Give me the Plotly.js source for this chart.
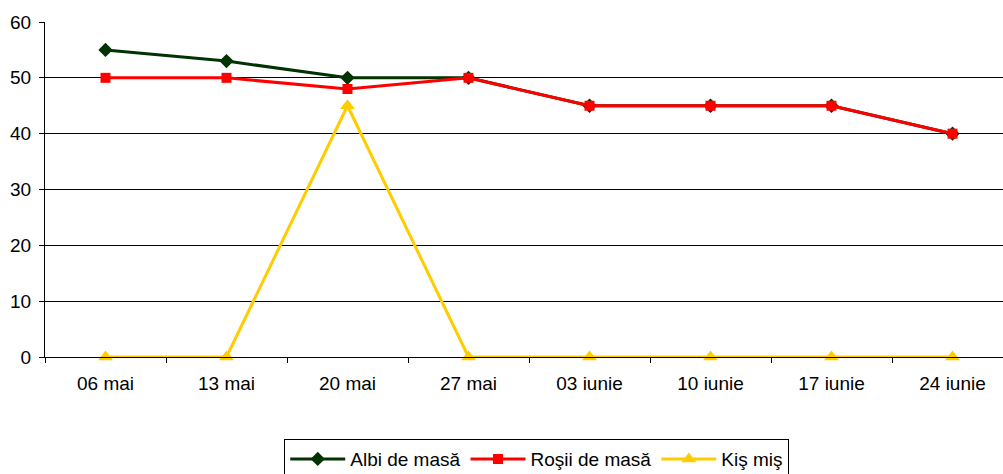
<!DOCTYPE html>
<html>
<head>
<meta charset="utf-8">
<script src="https://cdn.plot.ly/plotly-3.0.1.min.js"></script>
<style>
html,body{margin:0;padding:0;overflow:hidden;background:#fff;}
#chart{width:1013px;height:490px;}
</style>
</head>
<body>
<div id="chart"></div>
<script>
const categories = ["06 mai","13 mai","20 mai","27 mai","03 iunie","10 iunie","17 iunie","24 iunie"];
const albiValues = [55,53,50,50,45,45,45,40];
const rosiiValues = [50,50,48,50,45,45,45,40];
const kisValues = [0,0,45,0,0,0,0,0];
const seriesNames = ["Albi de masă","Roşii de masă","Kiş miş"];
const yTicks = [0,10,20,30,40,50,60];

const traces = [
  {x:categories,y:albiValues,name:seriesNames[0],type:"scatter",mode:"lines+markers",
   line:{color:"#003300",width:3},marker:{symbol:"diamond",size:11,color:"#003300"},cliponaxis:false},
  {x:categories,y:rosiiValues,name:seriesNames[1],type:"scatter",mode:"lines+markers",
   line:{color:"#FF0000",width:3},marker:{symbol:"square",size:10,color:"#FF0000"},cliponaxis:false},
  {x:categories,y:kisValues,name:seriesNames[2],type:"scatter",mode:"lines+markers",
   line:{color:"#FFCC00",width:3},marker:{symbol:"triangle-up",size:13,color:"#FFCC00"},cliponaxis:false}
];

const layout = {
  width:1013,height:490,
  margin:{l:45,r:0,t:22,b:133},
  paper_bgcolor:"#fff",plot_bgcolor:"#fff",
  font:{family:"Liberation Sans, Arial, sans-serif",size:19,color:"#000"},
  showlegend:true,
  xaxis:{type:"category",range:[-0.5,7.5],showgrid:false,zeroline:false,
    showline:true,linecolor:"#000",linewidth:1,automargin:false,
    ticks:"outside",tickson:"boundaries",ticklen:5,tickcolor:"#000",
    ticklabelstandoff:9,tickfont:{size:19},fixedrange:true},
  yaxis:{range:[0,60],tickvals:yTicks,showgrid:true,gridcolor:"#000",gridwidth:1,
    zeroline:false,showline:true,linecolor:"#000",linewidth:1,automargin:false,
    ticks:"outside",ticklen:5,tickcolor:"#000",ticklabelstandoff:4,tickfont:{size:19},fixedrange:true},
  legend:{orientation:"h",x:0.508,xanchor:"center",y:-0.245,yanchor:"top",
    bordercolor:"#000",borderwidth:1,bgcolor:"#fff",font:{size:19},itemwidth:55,
    tracegroupgap:0}
};

Plotly.newPlot("chart",traces,layout,{displayModeBar:false,staticPlot:true});
</script>
</body>
</html>
